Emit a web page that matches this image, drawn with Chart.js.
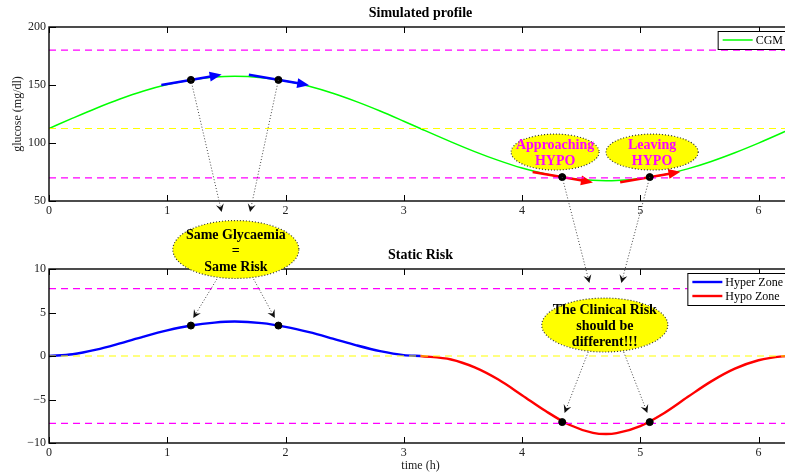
<!DOCTYPE html>
<html>
<head>
<meta charset="utf-8">
<script src="https://cdn.jsdelivr.net/npm/chart.js@4.4.0/dist/chart.umd.min.js"></script>
<style>
html, body { margin: 0; padding: 0; overflow: hidden; background: #fff; }
#wrap { position: relative; width: 800px; height: 476px; }
#wrap canvas { position: absolute; left: 0; }
</style>
</head>
<body>
<div id="wrap">
  <canvas id="glucoseChart" width="800" height="228" style="top:0px"></canvas>
  <canvas id="riskChart" width="800" height="248" style="top:228px"></canvas>
  <canvas id="notes" width="800" height="476" style="top:0px"></canvas>
</div>
<script>
// ---------- data ----------
const timeH   = [0, 0.2, 0.4, 0.6, 0.8, 1.0, 1.2, 1.4, 1.57, 1.8, 2.0, 2.2, 2.4, 2.6, 2.8, 3.0, 3.14,
                 3.4, 3.6, 3.8, 4.0, 4.2, 4.4, 4.6, 4.71, 4.8, 5.0, 5.2, 5.4, 5.6, 5.8, 6.0, 6.2, 6.28];
const cgm     = [112.5, 121.4, 130.0, 137.9, 144.8, 150.4, 154.4, 156.8, 157.5, 156.3, 153.4, 148.9, 142.9, 135.7, 127.6, 118.8, 112.5,
                 101.0, 92.6, 85.0, 78.4, 73.3, 69.7, 67.8, 67.5, 67.7, 69.4, 72.7, 77.7, 84.1, 91.6, 99.9, 108.8, 112.5];
const risk    = [0, 0.20, 0.73, 1.45, 2.23, 2.94, 3.50, 3.84, 3.96, 3.78, 3.35, 2.74, 2.00, 1.23, 0.56, 0.10, 0,
                 -0.40, -1.31, -2.71, -4.50, -6.33, -7.90, -8.83, -8.97, -8.87, -8.05, -6.57, -4.72, -2.92, -1.46, -0.49, -0.04, 0];
const hyperEndTime = 3.14;   // hyper zone until here, hypo zone after

const glucoseLimits = [70, 180];
const glucoseTarget = 112.5;
const riskLimits = [-7.75, 7.75];
const riskTarget = 0;

const markTimes   = [1.2, 1.94, 4.34, 5.08];
const markGlucose = [154.4, 154.4, 70.6, 70.6];
const markRisk    = [3.5, 3.5, -7.6, -7.6];
const markSlope   = [17.5, -17.5, -17.5, 17.5];      // mg/dl per hour, tangent arrows
const markArrowColor = ['#0000ff', '#0000ff', '#ff0000', '#ff0000'];

const tMax = 6.2832;
const glucoseTicks = { min: 50, max: 200, step: 50 };
const riskTicks = { min: -10, max: 10, step: 5 };
const timeTicks = { min: 0, max: tMax, step: 1 };

const serif = 'Liberation Serif';

// ---------- helpers ----------
function xy(xs, ys) { return xs.map((x, i) => ({ x: x, y: ys[i] })); }
function hline(y, color, order) {
  return { label: '_ref', data: [{ x: 0, y: y }, { x: tMax, y: y }], borderColor: color, borderWidth: 1.2,
           borderDash: [7, 5], pointRadius: 0, order: order };
}
function arrowHead(ctx, x0, y0, x1, y1, len, half, notch) {
  const a = Math.atan2(y1 - y0, x1 - x0);
  ctx.save();
  ctx.translate(x1, y1);
  ctx.rotate(a);
  ctx.beginPath();
  ctx.moveTo(0, 0);
  ctx.lineTo(-len, -half);
  ctx.lineTo(-len + notch, 0);
  ctx.lineTo(-len, half);
  ctx.closePath();
  ctx.fill();
  ctx.restore();
}

// box, inward ticks, centred title and a matlab-like legend
const matlabBox = {
  id: 'matlabBox',
  afterDatasetDraw(chart, args) {
    // tangent arrows go on top of the CGM curve, below the dots
    if (chart.data.datasets[args.index].label !== 'CGM') return;
    const ctx = chart.ctx, sx = chart.scales.x, sy = chart.scales.y;
    ctx.save();
    markTimes.forEach((t, i) => {
      const x0 = sx.getPixelForValue(t - 0.25), y0 = sy.getPixelForValue(markGlucose[i] - markSlope[i] * 0.25);
      const x1 = sx.getPixelForValue(t + 0.26), y1 = sy.getPixelForValue(markGlucose[i] + markSlope[i] * 0.26);
      ctx.strokeStyle = markArrowColor[i];
      ctx.fillStyle = markArrowColor[i];
      ctx.lineWidth = 2.6;
      const a = Math.atan2(y1 - y0, x1 - x0);
      ctx.beginPath();
      ctx.moveTo(x0, y0);
      ctx.lineTo(x1 - 8 * Math.cos(a), y1 - 8 * Math.sin(a));
      ctx.stroke();
      arrowHead(ctx, x0, y0, x1, y1, 12, 5, 0);
    });
    ctx.restore();
  },
  afterDraw(chart, args, opts) {
    const ctx = chart.ctx, a = chart.chartArea, sx = chart.scales.x, sy = chart.scales.y;
    ctx.save();
    ctx.strokeStyle = '#000';
    ctx.lineWidth = 1;
    ctx.beginPath();
    sx.ticks.forEach(t => {
      const px = Math.round(sx.getPixelForValue(t.value)) + 0.5;
      ctx.moveTo(px, a.bottom); ctx.lineTo(px, a.bottom - 6);
      ctx.moveTo(px, a.top); ctx.lineTo(px, a.top + 6);
    });
    sy.ticks.forEach(t => {
      const py = Math.round(sy.getPixelForValue(t.value)) + 0.5;
      ctx.moveTo(a.left, py); ctx.lineTo(a.left + 7, py);
      ctx.moveTo(a.right, py); ctx.lineTo(a.right - 7, py);
    });
    ctx.stroke();
    ctx.lineWidth = 1.4;
    ctx.strokeRect(a.left, a.top, a.right - a.left, a.bottom - a.top);

    // title centred over the axes
    if (opts.title) {
      ctx.fillStyle = '#000';
      ctx.font = 'bold 14px "' + serif + '"';
      ctx.textAlign = 'center';
      ctx.textBaseline = 'middle';
      ctx.fillText(opts.title, (a.left + a.right) / 2, a.top - opts.titleGap);
    }

    // legend
    const items = chart.data.datasets.filter(d => d.label && d.label[0] !== '_');
    ctx.font = '12px "' + serif + '"';
    ctx.textAlign = 'left';
    const textW = Math.max.apply(null, items.map(d => ctx.measureText(d.label).width));
    const w = 5 + 30 + 3 + textW + 5, h = 14 * items.length + 4;
    const bx = a.right - 4 - w, by = a.top + 4;
    ctx.fillStyle = '#fff';
    ctx.fillRect(bx, by, w, h);
    ctx.strokeStyle = '#000';
    ctx.lineWidth = 1;
    ctx.strokeRect(bx + 0.5, by + 0.5, w, h);
    items.forEach((d, i) => {
      const ly = by + 9 + 14 * i;
      ctx.strokeStyle = d.borderColor;
      ctx.lineWidth = d.borderWidth;
      ctx.beginPath(); ctx.moveTo(bx + 5, ly); ctx.lineTo(bx + 35, ly); ctx.stroke();
      ctx.fillStyle = '#000';
      ctx.textBaseline = 'middle';
      ctx.fillText(d.label, bx + 38, ly + 0.5);
    });
    ctx.restore();
  }
};

const tickFont = { family: serif, size: 12 };
const minusSign = v => String(v).replace('-', '\u2212');

function baseScales(yr, xAxisH, yTitle, xTitle) {
  return {
    x: {
      type: 'linear', min: timeTicks.min, max: timeTicks.max,
      grid: { display: false, drawTicks: false }, border: { display: false },
      ticks: { stepSize: timeTicks.step, includeBounds: false, font: tickFont, color: '#222', padding: 3, maxRotation: 0 },
      title: xTitle ? { display: true, text: xTitle, font: tickFont, color: '#222', padding: { top: 0, bottom: 2.8 } } : { display: false },
      afterFit(s) { s.height = xAxisH; }
    },
    y: {
      type: 'linear', min: yr.min, max: yr.max,
      grid: { display: false, drawTicks: false }, border: { display: false },
      ticks: { stepSize: yr.step, font: tickFont, color: '#222', padding: 3, callback: minusSign },
      title: yTitle ? { display: true, text: yTitle, font: tickFont, color: '#222', padding: { top: 10.8, bottom: 0 } } : { display: false },
      afterFit(s) { s.width = 49; }
    }
  };
}

// ---------- top: simulated profile ----------
const glucoseChart = new Chart(document.getElementById('glucoseChart'), {
  type: 'line',
  data: {
    datasets: [
      { label: '_marks', type: 'scatter', data: xy(markTimes, markGlucose), pointRadius: 3.5,
        backgroundColor: '#000', borderColor: '#000', showLine: false, order: 0 },
      hline(glucoseLimits[1], '#ff00ff', 1),
      hline(glucoseLimits[0], '#ff00ff', 1),
      hline(glucoseTarget, '#ffff00', 1),
      { label: 'CGM', data: xy(timeH, cgm), borderColor: '#00ff00', borderWidth: 1.5, pointRadius: 0,
        cubicInterpolationMode: 'monotone', order: 2 }
    ]
  },
  options: {
    responsive: false, animation: false, events: [],
    layout: { padding: { left: 0, right: 8, top: 27, bottom: 0 } },
    plugins: {
      legend: { display: false }, tooltip: { enabled: false }, title: { display: false },
      matlabBox: { title: 'Simulated profile', titleGap: 14 }
    },
    scales: baseScales(glucoseTicks, 27, 'glucose (mg/dl)', null)
  },
  plugins: [matlabBox]
});

// ---------- bottom: static risk ----------
const hyperIdx = timeH.map((t, i) => i).filter(i => timeH[i] <= hyperEndTime);
const hypoIdx = timeH.map((t, i) => i).filter(i => timeH[i] >= hyperEndTime);

const riskChart = new Chart(document.getElementById('riskChart'), {
  type: 'line',
  data: {
    datasets: [
      { label: '_marks', type: 'scatter', data: xy(markTimes, markRisk), pointRadius: 3.5,
        backgroundColor: '#000', borderColor: '#000', showLine: false, order: 0 },
      hline(riskLimits[1], '#ff00ff', 1),
      hline(riskLimits[0], '#ff00ff', 1),
      hline(riskTarget, '#ffff00', 1),
      { label: 'Hyper Zone', data: hyperIdx.map(i => ({ x: timeH[i], y: risk[i] })), borderColor: '#0000ff',
        borderWidth: 2.4, pointRadius: 0, cubicInterpolationMode: 'monotone', order: 2 },
      { label: 'Hypo Zone', data: hypoIdx.map(i => ({ x: timeH[i], y: risk[i] })), borderColor: '#ff0000',
        borderWidth: 2.4, pointRadius: 0, cubicInterpolationMode: 'monotone', order: 2 }
    ]
  },
  options: {
    responsive: false, animation: false, events: [],
    layout: { padding: { left: 0, right: 8, top: 41, bottom: 0 } },
    plugins: {
      legend: { display: false }, tooltip: { enabled: false }, title: { display: false },
      matlabBox: { title: 'Static Risk', titleGap: 14 }
    },
    scales: baseScales(riskTicks, 33, null, 'time (h)')
  },
  plugins: [matlabBox]
});

// ---------- annotations (figure level) ----------
const noteEllipses = [
  { on: 'risk', x: 1.58, y: 12.24, rx: 0.533, ry: 3.33, lines: ['Same Glycaemia', '=', 'Same Risk'], color: '#000', size: 14 },
  { on: 'glucose', x: 4.28, y: 92.2, rx: 0.372, ry: 15.5, lines: ['Approaching', 'HYPO'], color: '#ff00ff', size: 14 },
  { on: 'glucose', x: 5.10, y: 92.2, rx: 0.39, ry: 15.5, lines: ['Leaving', 'HYPO'], color: '#ff00ff', size: 14 },
  { on: 'risk', x: 4.70, y: 3.56, rx: 0.533, ry: 3.1, lines: ['The Clinical Risk', 'should be', 'different!!!'], color: '#000', size: 14 }
];
const noteLinks = [
  [['glucose', 1.2, 154.4], ['glucose', 1.46, 40.5]],
  [['glucose', 1.94, 154.4], ['glucose', 1.70, 40.5]],
  [['risk', 1.42, 8.85], ['risk', 1.22, 4.37]],
  [['risk', 1.73, 8.85], ['risk', 1.91, 4.37]],
  [['glucose', 4.34, 70.6], ['risk', 4.57, 8.4]],
  [['glucose', 5.08, 70.6], ['risk', 4.84, 8.4]],
  [['risk', 4.56, 0.46], ['risk', 4.36, -6.55]],
  [['risk', 4.86, 0.46], ['risk', 5.06, -6.55]]
];

function drawNotes() {
  const panels = { glucose: { chart: glucoseChart, top: 0 }, risk: { chart: riskChart, top: 228 } };
  function at(on, x, y) {
    const p = panels[on];
    return [p.chart.scales.x.getPixelForValue(x), p.top + p.chart.scales.y.getPixelForValue(y)];
  }
  const ctx = document.getElementById('notes').getContext('2d');
  ctx.clearRect(0, 0, 800, 476);

  // dotted links with small arrow heads
  noteLinks.forEach(l => {
    const p0 = at.apply(null, l[0]), p1 = at.apply(null, l[1]);
    const a = Math.atan2(p1[1] - p0[1], p1[0] - p0[0]);
    ctx.save();
    ctx.strokeStyle = '#444';
    ctx.lineWidth = 1;
    ctx.setLineDash([1, 2]);
    ctx.beginPath();
    ctx.moveTo(p0[0], p0[1]);
    ctx.lineTo(p1[0] - 5 * Math.cos(a), p1[1] - 5 * Math.sin(a));
    ctx.stroke();
    ctx.setLineDash([]);
    ctx.fillStyle = '#111';
    arrowHead(ctx, p0[0], p0[1], p1[0], p1[1], 8, 4, 3);
    ctx.restore();
  });

  // yellow text ellipses
  noteEllipses.forEach(e => {
    const c = at(e.on, e.x, e.y);
    const ex = at(e.on, e.x + e.rx, e.y)[0] - c[0];
    const ey = c[1] - at(e.on, e.x, e.y + e.ry)[1];
    ctx.save();
    ctx.beginPath();
    ctx.ellipse(c[0], c[1], ex, ey, 0, 0, Math.PI * 2);
    ctx.fillStyle = '#ffff00';
    ctx.fill();
    ctx.strokeStyle = '#333';
    ctx.lineWidth = 1.2;
    ctx.setLineDash([1, 2]);
    ctx.stroke();
    ctx.fillStyle = e.color;
    ctx.font = 'bold ' + e.size + 'px "' + serif + '"';
    ctx.textAlign = 'center';
    ctx.textBaseline = 'middle';
    const n = e.lines.length;
    e.lines.forEach((s, i) => {
      ctx.fillText(s, c[0], c[1] + 1.5 + (i - (n - 1) / 2) * 16);
    });
    ctx.restore();
  });
}
drawNotes();
</script>
</body>
</html>
